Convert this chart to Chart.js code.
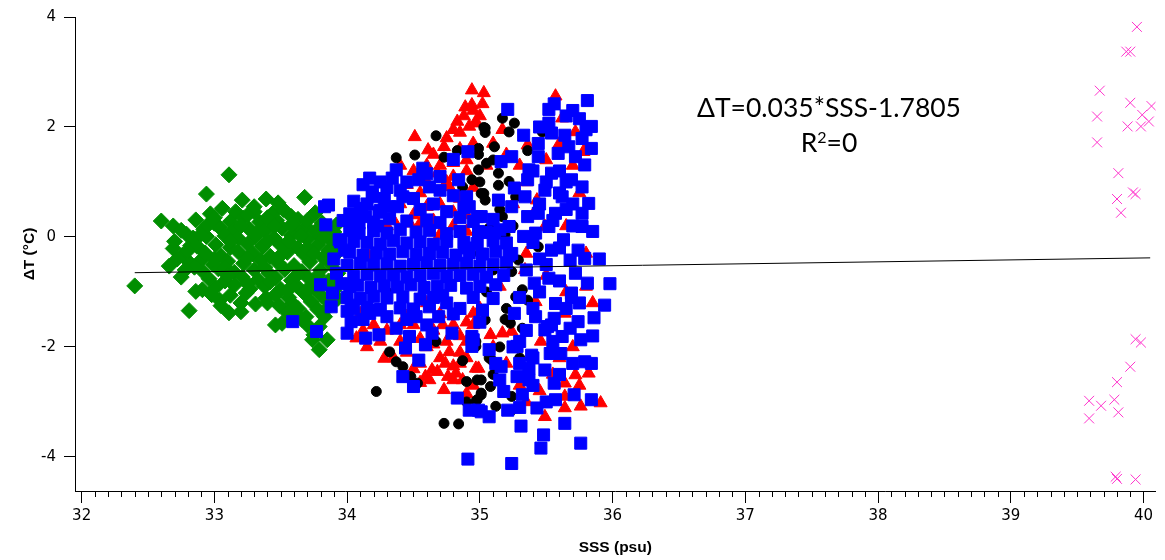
<!DOCTYPE html>
<html lang="en">
  <head>
    <meta charset="UTF-8" />
    <title>ΔT vs SSS</title>
    <script src="https://cdn.jsdelivr.net/npm/chart.js"></script>
    <style>
      body,
      html {
        margin: 0;
        background: #fff;
      }
      #wrap {
        width: 1165px;
        height: 560px;
        position: relative;
      }
    </style>
  </head>
  <body>
    <div id="wrap"><canvas id="myChart"></canvas></div>
    <script>
      const xTicks = [32, 33, 34, 35, 36, 37, 38, 39, 40];
      const yTicks = [-4, -2, 0, 2, 4];

      // regression line end points
      const fitLine = [[32.4, -0.65], [40.05, -0.38]];

      const greenPts = [
        [33.11,1.13],[32.94,0.78],[33.68,0.72],[32.6,0.29],[32.69,0.2],[32.79,0.05],[32.94,0.01],[32.69,-0.21],[32.82,-0.16],[32.66,-0.53],
        [32.75,-0.73],[32.4,-0.89],[32.86,-0.99],[32.81,-1.34],[33.11,-1.38],[33.2,-1.36],[33.46,-1.6],[33.79,-2.05],[33.85,-1.87],[33.74,-1.87],
        [33.06,0.52],[33.21,0.67],[33.39,0.69],[33.3,0.46],[33.58,0.37],[33.69,0.19],[33.92,0.22],[33.79,0.01],[33.86,-0.24],[33.0,0.25],
        [32.9,-0.42],[32.91,-0.96],[33.04,-1.15],[33.39,-1.11],[33.59,-1.21],[33.69,-1.45],[33.79,-1.63],[33.51,-1.57],
        [32.97,0.42],[33.16,0.46],[33.44,0.43],[33.52,0.5],[33.76,0.44],
        [32.86,0.31],[33.12,0.28],[33.22,0.34],[33.34,0.27],[33.47,0.3],[33.63,0.32],[33.81,0.26],
        [32.92,0.14],[33.04,0.17],[33.14,0.12],[33.26,0.15],[33.38,0.11],[33.51,0.16],[33.62,0.13],[33.76,0.1],[33.9,0.09],
        [32.84,-0.02],[33.08,0.02],[33.18,-0.03],[33.31,0.0],[33.45,-0.02],[33.58,0.03],[33.7,-0.04],[33.88,-0.06],
        [32.87,-0.17],[33.01,-0.14],[33.12,-0.19],[33.25,-0.13],[33.36,-0.18],[33.5,-0.15],[33.63,-0.2],[33.78,-0.14],[33.94,-0.2],
        [32.76,-0.33],[32.93,-0.29],[33.05,-0.34],[33.18,-0.27],[33.29,-0.31],[33.42,-0.35],[33.55,-0.28],[33.68,-0.33],[33.82,-0.38],
        [32.81,-0.46],[32.99,-0.5],[33.1,-0.44],[33.22,-0.48],[33.35,-0.43],[33.48,-0.47],[33.6,-0.52],[33.72,-0.45],[33.88,-0.5],
        [32.91,-0.62],[33.03,-0.58],[33.15,-0.64],[33.3,-0.6],[33.41,-0.66],[33.53,-0.59],[33.66,-0.63],[33.8,-0.6],[33.93,-0.66],
        [32.96,-0.76],[33.08,-0.8],[33.21,-0.73],[33.33,-0.78],[33.46,-0.74],[33.58,-0.79],[33.71,-0.75],[33.86,-0.8],
        [33.01,-0.92],[33.15,-0.88],[33.27,-0.94],[33.38,-0.9],[33.5,-0.95],[33.62,-0.89],[33.75,-0.93],[33.9,-0.97],
        [33.12,-1.06],[33.24,-1.02],[33.46,-1.05],[33.56,-1.1],[33.68,-1.03],[33.81,-1.08],[33.93,-1.12],
        [33.31,-1.22],[33.49,-1.25],[33.63,-1.3],[33.73,-1.18],[33.86,-1.27],[33.61,-1.42],[33.7,-1.6],[33.83,-1.45],
        [33.0,0.35],[33.25,0.4],[33.4,0.35],[33.58,0.22],[33.7,0.3],[33.85,0.15],[32.95,0.22],[33.2,0.2],[33.32,0.08],[33.45,0.2],
        [33.65,0.02],[33.82,-0.02],[32.9,0.05],[33.12,-0.08],[33.4,-0.08],[33.56,-0.08],[33.7,-0.2],[32.8,-0.25],[33.0,-0.4],[33.25,-0.38],
        [33.48,-0.38],[33.75,-0.3],[33.9,-0.35],[32.85,-0.55],[33.08,-0.55],[33.38,-0.55],[33.62,-0.7],[33.78,-0.7],[33.9,-0.82],[33.1,-0.7],
        [33.25,-0.85],[33.42,-0.82],[33.55,-0.98],[33.7,-0.95],[33.85,-1.15],[33.4,-1.2],[33.55,-1.38],[33.78,-1.32],[33.66,-1.5],[33.75,-1.78],
        [33.2,-1.2],[32.98,-1.05],[33.05,-1.25],[33.3,0.55],[33.48,0.62],[32.75,0.12],[32.72,-0.4],[32.78,-0.6],[32.7,-0.08]
      ];

      const redPts = [
        [34.94,2.67],[35.03,2.62],[34.89,2.36],[34.94,2.4],[35.02,2.42],[34.83,2.1],[34.92,2.01],[34.97,2.1],[34.51,1.82],[34.61,1.58],
        [34.73,1.64],[34.68,1.16],[34.47,0.25],[34.17,-0.36],[34.77,0.91],[35.57,2.56],[35.62,2.16],[35.72,1.91],[34.97,2.07],[35.17,1.95],
        [35.36,1.67],[35.43,0.67],[35.49,0.19],[35.34,-0.6],[35.78,1.55],
        [34.28,-2.21],[34.64,-2.42],[34.73,-2.78],[34.59,-2.54],[34.82,-2.48],[34.97,-2.39],[34.07,-1.84],[34.77,-2.09],[34.87,-2.6],[34.74,-2.3],[34.76,-2.54],
        [35.91,-3.02],[35.76,-3.08],[35.64,-3.11],[35.49,-3.27],[35.82,-2.48],[35.72,-2.51],[35.64,-2.66],[35.64,-2.9],[34.99,-2.39],[35.17,-1.75],
        [35.08,-1.78],[35.46,-1.9],[35.64,-1.39],[35.42,-1.18],[35.24,-1.72],[34.95,-1.39],
        [34.7,1.3],[34.8,1.1],[34.9,1.4],[34.75,1.8],[34.85,1.9],[34.95,1.7],[34.6,1.0],[34.55,0.8],[34.7,0.6],[34.85,0.7],
        [34.95,0.9],[34.65,0.3],[34.8,0.2],[34.9,0.1],[34.5,0.4],[34.4,0.6],[35.05,1.3],[35.1,1.7],[35.2,1.5],[35.3,1.3],
        [35.35,1.0],[35.25,0.6],[35.4,0.4],[35.5,1.4],[35.6,1.7],[35.7,1.3],[35.8,1.6],[35.75,0.8],[35.65,0.2],[35.8,-0.3],
        [34.6,-1.2],[34.7,-1.4],[34.8,-1.6],[34.65,-1.7],[34.75,-1.9],[34.85,-2.1],[34.6,-2.0],[34.55,-2.3],[34.7,-2.2],[34.8,-2.35],
        [34.9,-1.9],[34.95,-1.6],[35.0,-1.3],[34.5,-1.6],[34.4,-1.9],[34.3,-1.7],[34.2,-1.6],[34.15,-2.0],[34.1,-1.4],[35.1,-2.0],
        [35.2,-2.3],[35.3,-2.7],[35.35,-3.0],[35.45,-2.8],[35.55,-2.5],[35.6,-2.2],[35.7,-2.0],[35.75,-2.7],[35.65,-1.0],[35.5,-0.7],
        [35.35,-0.3],[35.15,-0.9],[35.85,-1.2],[35.8,-0.9],
        [34.45,-2.1],[34.5,-2.4],[34.62,-2.6],[34.68,-2.45],[34.8,-2.6],[34.85,-2.3],[34.9,-2.2],[34.55,-1.85],[34.65,-1.95],[34.72,-1.6],
        [34.85,-1.8],[34.9,-1.55],[34.4,-1.6],[34.35,-2.2],[34.25,-1.9],[34.12,-1.7],[34.95,-2.7],[34.9,-2.85],[34.55,-2.65],[34.45,-1.45],
        [34.6,1.3],[34.65,1.5],[34.8,1.35],[34.85,1.6],[34.9,1.2],[34.75,1.0],[34.9,0.4],[34.8,0.45],[34.6,0.55],[34.55,0.25],
        [34.7,0.05],[34.95,2.3],[34.88,2.2],[34.8,1.95],[35.0,2.2],[34.5,1.2],[34.4,1.3],[34.45,0.95],[34.35,0.3],[34.3,0.2]
      ];

      const blackPts = [
        [34.37,1.44],[34.51,1.49],[34.67,1.84],[34.73,1.45],[34.83,1.57],[35.03,1.99],[34.99,1.61],[34.99,1.5],[34.99,1.22],[35.01,0.79],
        [35.07,0.16],[34.87,0.91],[34.94,1.04],[35.17,2.16],[35.26,2.07],[35.22,1.91],[35.04,1.98],[35.04,1.9],[35.11,1.64],[35.36,1.57],
        [35.05,1.34],[35.14,1.16],[35.22,1.01],[35.14,0.94],[35.27,0.73],[35.03,0.79],[35.04,0.67],[35.17,0.37],[35.08,0.16],[35.19,0.04],
        [35.29,-0.42],[35.24,-0.63],[35.47,1.91],[35.44,-0.18],
        [34.22,-2.81],[34.73,-3.39],[34.84,-3.4],[34.87,-2.25],[34.9,-2.63],[34.98,-2.6],[35.01,-2.87],[34.97,-2.99],[34.32,-2.09],[34.37,-2.27],
        [34.42,-2.36],[34.48,-2.54],[34.53,-2.66],[34.67,-1.9],[35.04,-1.51],[35.36,-1.15],[35.27,-1.09],[35.23,-1.57],[35.32,-1.66],[35.19,-1.5],
        [35.01,-2.6],[35.08,-2.72],[35.01,-2.84],[34.98,-2.96],[35.12,-3.08],[35.24,-2.9],[35.24,-3.15],[35.09,-2.24],[35.07,-2.2],[34.97,-1.99],
        [34.97,-1.9],[35.32,-0.96],
        [35.1,1.4],[35.0,1.0],[35.15,0.5],[35.25,0.2],[35.0,-0.3],[35.1,-0.6],[35.05,-1.0],[35.2,-1.3],[35.15,-2.0],[35.1,-2.5],
        [34.9,-3.0],[35.3,-2.2],[34.3,-1.0]
      ];

      const bluePts = [
        [34.17,1.07],[34.37,1.22],[34.34,1.07],[34.57,1.25],[34.91,1.55],[34.8,1.41],[34.19,0.82],[34.19,0.73],[34.42,0.73],[34.32,0.55],
        [34.14,0.37],[34.09,0.07],[33.95,-0.09],[33.98,-0.24],[34.54,1.04],[34.62,0.91],[34.84,1.04],[34.9,0.73],[35.01,0.37],[34.92,0.55],
        [34.09,0.25],[34.11,0.45],[34.24,0.45],[34.23,0.2],
        [35.21,2.32],[35.81,2.48],[35.56,2.42],[35.52,2.32],[35.52,2.07],[35.84,2.01],[35.33,1.85],[35.84,1.61],[35.77,1.79],[35.44,1.7],
        [35.64,1.85],[35.79,1.31],[35.24,1.46],[35.16,1.37],[35.37,1.22],[35.36,1.04],[35.26,0.89],[35.14,0.67],[35.34,0.73],[35.54,1.16],
        [35.69,1.04],[35.77,0.91],[35.82,0.61],[35.77,0.43],[35.77,0.19],[35.63,-0.05],[35.74,-0.24],[35.79,-0.39],[35.68,-0.42],[35.54,-0.24],
        [35.42,0.07],[35.33,0.01],[35.44,0.43],[35.36,0.37],[35.24,0.55],[35.22,0.19],[35.11,0.07],[35.24,-0.3],[35.52,0.19],[35.57,0.43],
        [35.62,0.73],[35.49,0.85],[35.44,1.46],[35.59,1.52],[35.67,1.64],[35.54,1.89],[35.72,1.46],[34.98,0.37],[34.99,0.1],
        [33.92,-0.66],[34.03,-1.24],[34.03,-1.54],[34.0,-1.75],[34.14,-1.84],[34.24,-1.78],[34.37,-1.66],[34.47,-1.81],[34.44,-2.02],[34.54,-2.24],
        [34.42,-2.54],[34.5,-2.72],[34.64,-1.75],[34.79,-1.75],[34.94,-1.81],[34.94,-1.99],[34.83,-2.93],[34.92,-3.15],[35.01,-3.18],[34.91,-4.04],
        [34.59,-1.96],[34.17,-1.39],[34.24,-1.33],[34.52,-1.45],[34.69,-1.45],
        [35.98,-0.85],[35.94,-1.24],[35.86,-1.47],[35.81,-0.84],[35.69,-1.02],[35.69,-1.1],[35.74,-1.54],[35.76,-1.87],[35.84,-2.3],[35.79,-2.27],
        [35.84,-2.96],[35.71,-2.87],[35.64,-3.39],[35.76,-3.75],[35.48,-3.6],[35.46,-3.84],[35.24,-4.12],[35.31,-3.44],[35.43,-3.11],[35.57,-2.96],
        [35.56,-2.66],[35.49,-2.42],[35.37,-2.6],[35.32,-2.87],[35.21,-3.15],[35.07,-3.27],[34.99,-3.15],[35.18,-2.81],[35.28,-2.54],[35.28,-1.99],
        [35.39,-2.15],[35.53,-2.12],[35.61,-2.12],[35.62,-1.81],[35.68,-1.66],[35.54,-1.6],[35.51,-1.63],[35.42,-1.45],[35.56,-1.48],[35.26,-1.39],
        [35.41,-0.84],[35.52,-0.75],[35.72,-0.66],[35.57,-1.21],[35.49,-1.69],[35.37,-2.39],[35.16,-2.36],[35.07,-2.05],[35.12,-2.3],[35.02,-1.33],
        [34.95,-1.87],
        [33.86,0.58],[33.94,-0.05],[33.89,-1.02],[33.59,-1.54],[33.77,-1.72],[33.83,0.55],[33.84,0.22],[33.8,-0.87],[33.88,-1.27],
        [34.1,0.52],[34.25,0.48],[34.38,0.55],[34.55,0.5],[34.75,0.46],[34.88,0.53],
        [34.05,0.3],[34.2,0.27],[34.32,0.33],[34.45,0.29],[34.6,0.31],[34.7,0.26],[34.95,0.28],[35.1,0.32],
        [34.02,0.12],[34.08,0.08],[34.2,0.11],[34.3,0.07],[34.4,0.13],[34.52,0.09],[34.62,0.12],[34.75,0.06],[34.85,0.1],[35.05,0.08],[35.15,0.13],
        [34.05,-0.08],[34.15,-0.1],[34.25,-0.13],[34.35,-0.07],[34.45,-0.11],[34.55,-0.09],[34.65,-0.13],[34.75,-0.08],[34.88,-0.1],
        [34.98,-0.12],[35.1,-0.07],[35.2,-0.11],
        [34.02,-0.28],[34.12,-0.33],[34.22,-0.29],[34.32,-0.31],[34.42,-0.27],[34.52,-0.32],[34.62,-0.3],[34.72,-0.28],[34.82,-0.33],
        [34.92,-0.29],[35.02,-0.31],[35.12,-0.27],[35.22,-0.33],
        [34.0,-0.52],[34.1,-0.48],[34.2,-0.51],[34.3,-0.49],[34.4,-0.53],[34.5,-0.5],[34.6,-0.47],[34.7,-0.52],[34.8,-0.5],
        [34.9,-0.48],[35.0,-0.53],[35.1,-0.5],[35.2,-0.47],
        [34.05,-0.72],[34.15,-0.68],[34.25,-0.71],[34.35,-0.69],[34.45,-0.73],[34.55,-0.7],[34.65,-0.67],[34.75,-0.72],[34.85,-0.7],
        [34.95,-0.68],[35.05,-0.73],[35.18,-0.7],
        [34.02,-0.9],[34.08,-0.88],[34.18,-0.92],[34.28,-0.89],[34.38,-0.91],[34.48,-0.87],[34.58,-0.92],[34.68,-0.9],[34.78,-0.88],[34.9,-0.93],
        [35.0,-0.9],[35.12,-0.87],
        [34.0,-1.1],[34.1,-1.12],[34.2,-1.08],[34.3,-1.11],[34.42,-1.09],[34.55,-1.13],[34.65,-1.1],[34.72,-1.07],[34.95,-1.1],[35.1,-1.12],
        [34.05,-1.3],[34.15,-1.28],[34.25,-1.32],[34.4,-1.29],[34.5,-1.31],[34.62,-1.27],[34.85,-1.3],
        [35.4,1.2],[35.5,1.0],[35.6,0.8],[35.45,0.6],[35.55,0.3],[35.65,0.5],[35.7,0.2],[35.4,-0.1],[35.5,-0.5],[35.6,-0.8],
        [35.45,-1.0],[35.35,-0.6],[35.3,-1.9],[35.4,-2.2],[35.3,-2.3],[35.6,1.2],[35.7,2.3],[35.45,2.0],[35.65,2.2],
        [34.05,0.65],[34.15,0.6],[34.28,0.7],[34.4,0.85],[34.5,0.7],[34.65,0.6],[34.3,0.9],[34.45,1.0],[34.6,1.15],[34.7,0.85],
        [34.8,0.75],[34.25,1.0],[34.12,0.95],[34.7,1.1],[34.85,0.35],[34.9,-0.2],[34.02,0.42],[33.97,0.3],
        [33.9,-0.4],[33.96,-0.85],[34.0,-1.35],[34.12,-1.5],[34.3,-1.45],[34.45,-1.5],[34.6,-1.6],[34.75,-1.2],
        [34.8,-1.4],[35.0,-1.55],
        [35.75,2.15],[35.8,1.95],[35.65,1.0],[35.7,0.6],[35.85,0.1],[35.9,-0.4],[35.6,-0.2],[35.45,-0.4],[35.65,-1.3],[35.75,-1.2],
        [35.85,-1.8],[35.55,-1.9],[35.6,-2.5],[35.7,-2.3],[35.4,-2.7],[35.5,-3.0],[35.3,-3.1],[35.15,-2.6],[35.25,-2.0],[35.35,-1.7],
        [35.4,-1.3],[35.3,-1.1]
      ];

      const pinkPts = [
        [39.95,3.82],[39.87,3.37],[39.9,3.37],[39.67,2.66],[39.9,2.44],[40.06,2.38],[39.65,2.19],[39.99,2.22],[39.88,2.01],[39.98,2.01],
        [40.04,2.1],[39.65,1.72],[39.81,1.16],[39.92,0.81],[39.94,0.78],[39.8,0.69],[39.83,0.44],
        [39.94,-1.86],[39.98,-1.92],[39.9,-2.36],[39.8,-2.64],[39.59,-2.98],[39.68,-3.07],[39.78,-2.96],[39.81,-3.19],[39.59,-3.3],
        [39.79,-4.36],[39.8,-4.4],[39.94,-4.41]
      ];

      const toXY = (pts) => pts.map((p) => ({ x: p[0], y: p[1] }));

      function marker(color, style, radius, order) {
        return {
          type: "scatter",
          pointStyle: style,
          pointRadius: radius,
          pointBackgroundColor: color,
          pointBorderColor: color,
          pointBorderWidth: 1,
          order: order,
        };
      }

      // minor x ticks and the fit equation
      const extras = {
        id: "extras",
        afterDraw(chart) {
          const ctx = chart.ctx;
          const xs = chart.scales.x;
          const ys = chart.scales.y;
          ctx.save();
          ctx.strokeStyle = "#000";
          ctx.lineWidth = 1;
          ctx.beginPath();
          for (let i = 320; i <= 400; i++) {
            if (i % 10 === 0) continue;
            const px = Math.round(xs.getPixelForValue(i / 10)) + 0.5;
            ctx.moveTo(px, xs.top);
            ctx.lineTo(px, xs.top + 6);
          }
          ctx.stroke();

          ctx.fillStyle = "#000";
          ctx.textBaseline = "alphabetic";
          ctx.textAlign = "center";
          const cx = xs.getPixelForValue(37.63);
          ctx.font = "26.5px Lato";
          ctx.fillText("ΔT=0.035*SSS-1.7805", cx, ys.getPixelForValue(2.18));
          // R² with a raised 2
          const by = ys.getPixelForValue(1.55);
          const wR = ctx.measureText("R").width;
          const wEq = ctx.measureText("=0").width;
          ctx.font = "16px Lato";
          const w2 = ctx.measureText("2").width;
          const x0 = cx - (wR + w2 + wEq) / 2;
          ctx.textAlign = "left";
          ctx.font = "26.5px Lato";
          ctx.fillText("R", x0, by);
          ctx.font = "16px Lato";
          ctx.fillText("2", x0 + wR, by - 9);
          ctx.font = "26.5px Lato";
          ctx.fillText("=0", x0 + wR + w2, by);
          ctx.restore();
        },
      };

      const tickFont = { family: "DejaVu Sans", size: 15 };
      const titleFont = { family: "Liberation Sans", size: 15.5, weight: "bold" };

      new Chart(document.getElementById("myChart"), {
        type: "scatter",
        data: {
          datasets: [
            {
              type: "line",
              data: toXY(fitLine),
              borderColor: "#000",
              borderWidth: 1,
              pointRadius: 0,
              fill: false,
              order: 0,
            },
            { ...marker("#ff33cc", "crossRot", 7, 1), data: toXY(pinkPts) },
            { ...marker("#0000ff", "rect", 8.5, 2), data: toXY(bluePts) },
            { ...marker("#000000", "circle", 5, 3), data: toXY(blackPts) },
            { ...marker("#ff0000", "triangle", 7.5, 4), data: toXY(redPts) },
            { ...marker("#008e00", "rectRot", 8, 5), data: toXY(greenPts) },
          ],
        },
        options: {
          responsive: true,
          maintainAspectRatio: false,
          animation: false,
          events: [],
          layout: { padding: { top: 17, right: 7, left: 0, bottom: 0 } },
          plugins: { legend: { display: false }, tooltip: { enabled: false } },
          scales: {
            x: {
              type: "linear",
              min: 31.95,
              max: 40.09,
              afterBuildTicks: (s) => {
                s.ticks = xTicks.map((v) => ({ value: v }));
              },
              afterFit: (s) => {
                s.height = 69;
              },
              grid: { drawOnChartArea: false, tickLength: 12, color: "#000", tickColor: "#000" },
              border: { display: true, color: "#000", width: 1 },
              ticks: { font: tickFont, color: "#000", padding: 4, maxRotation: 0 },
              title: { display: true, text: "SSS (psu)", font: titleFont, color: "#000", padding: { top: 0, bottom: 3 } },
            },
            y: {
              type: "linear",
              min: -4.62,
              max: 4,
              afterBuildTicks: (s) => {
                s.ticks = yTicks.map((v) => ({ value: v }));
              },
              afterFit: (s) => {
                s.width = 75;
              },
              grid: { drawOnChartArea: false, tickLength: 11, color: "#000", tickColor: "#000" },
              border: { display: true, color: "#000", width: 1 },
              ticks: { font: tickFont, color: "#000", padding: 8 },
              title: { display: true, text: "ΔT (°C)", font: titleFont, color: "#000", padding: { top: 20, bottom: 0 } },
            },
          },
        },
        plugins: [extras],
      });
    </script>
  </body>
</html>
